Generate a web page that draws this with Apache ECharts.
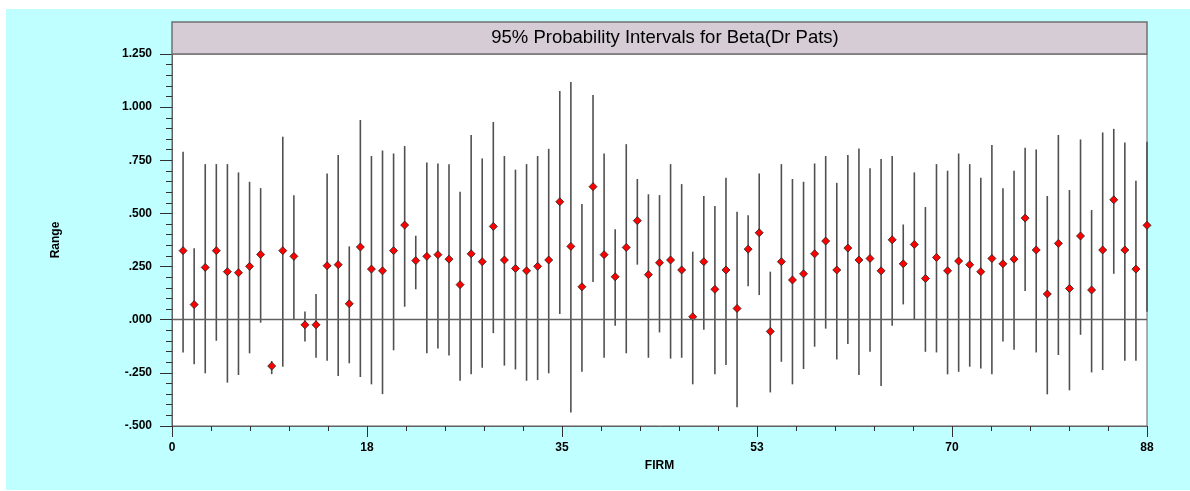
<!DOCTYPE html>
<html>
<head>
<meta charset="utf-8">
<script src="https://cdn.jsdelivr.net/npm/echarts@6/dist/echarts.min.js"></script>
<style>
  html, body { margin: 0; padding: 0; background: #ffffff; }
  #chart { position: absolute; left: 6px; top: 9px; width: 1184px; height: 481px; }
</style>
</head>
<body>
<div id="chart"></div>
<script>
// firms 1..88
var firms = [];
for (var i = 1; i <= 88; i++) firms.push(i);

// point estimates (red diamonds)
var est = [0.325,0.071,0.246,0.325,0.226,0.221,0.251,0.307,-0.218,0.325,
  0.298,-0.024,-0.024,0.254,0.259,0.075,0.342,0.238,0.230,0.325,
  0.445,0.278,0.298,0.306,0.285,0.165,0.310,0.273,0.439,0.281,
  0.241,0.230,0.251,0.281,0.555,0.345,0.155,0.626,0.306,0.202,
  0.340,0.466,0.212,0.268,0.281,0.234,0.014,0.273,0.143,0.234,
  0.053,0.332,0.409,-0.055,0.273,0.187,0.216,0.310,0.370,0.234,
  0.337,0.281,0.288,0.230,0.376,0.263,0.354,0.194,0.293,0.230,
  0.276,0.259,0.226,0.288,0.263,0.285,0.478,0.328,0.121,0.359,
  0.147,0.394,0.140,0.328,0.564,0.328,0.238,0.444];

// upper ends of the 95% intervals
var hi = [0.790,0.336,0.732,0.732,0.732,0.693,0.649,0.619,-0.194,0.861,
  0.586,0.039,0.121,0.688,0.775,0.345,0.939,0.770,0.796,0.782,
  0.817,0.395,0.740,0.735,0.731,0.602,0.869,0.759,0.930,0.770,
  0.706,0.732,0.770,0.804,1.076,1.118,0.544,1.057,0.782,0.426,
  0.826,0.662,0.590,0.586,0.732,0.638,0.320,0.582,0.535,0.668,
  0.508,0.492,0.688,0.226,0.732,0.662,0.649,0.735,0.770,0.644,
  0.775,0.806,0.713,0.756,0.770,0.448,0.693,0.530,0.732,0.701,
  0.782,0.732,0.668,0.822,0.619,0.701,0.809,0.801,0.582,0.869,
  0.610,0.848,0.516,0.881,0.898,0.834,0.654,0.837];

// lower ends
var lo = [-0.154,-0.209,-0.252,-0.099,-0.296,-0.260,-0.158,-0.014,-0.256,-0.221,
  0.002,-0.102,-0.179,-0.193,-0.265,-0.205,-0.270,-0.304,-0.350,-0.144,
  0.061,0.143,-0.158,-0.136,-0.168,-0.287,-0.257,-0.226,-0.063,-0.216,
  -0.234,-0.287,-0.284,-0.252,0.027,-0.436,-0.245,0.177,-0.179,-0.028,
  -0.158,0.259,-0.179,-0.060,-0.183,-0.179,-0.304,-0.047,-0.257,-0.213,
  -0.412,0.158,0.116,-0.342,-0.198,-0.304,-0.232,-0.127,-0.042,-0.187,
  -0.114,-0.260,-0.151,-0.312,-0.028,0.072,0.002,-0.151,-0.154,-0.257,
  -0.245,-0.221,-0.230,-0.257,-0.102,-0.141,0.135,-0.154,-0.351,-0.166,
  -0.332,-0.071,-0.248,-0.237,0.216,-0.193,-0.193,0.038];

var intervalData = firms.map(function (f, k) { return [f, lo[k], hi[k]]; });
var pointData = firms.map(function (f, k) { return [f, est[k]]; });

var fnt = '"Liberation Sans", Arial, sans-serif';
var axisCol = '#606060';

function yFmt(v) {
  var s = Math.abs(v).toFixed(3);
  if (s.charAt(0) === '0') s = s.slice(1);
  return (v < 0 ? '-' : '') + s;
}

var myChart = echarts.init(document.getElementById('chart'));
myChart.setOption({
  animation: false,
  backgroundColor: '#C0FFFF',
  grid: { left: 166, right: 43, top: 45, bottom: 64, show: true, borderColor: axisCol, borderWidth: 1, backgroundColor: '#ffffff' },
  graphic: [
    { // title band
      type: 'rect',
      shape: { x: 166, y: 13, width: 975, height: 32 },
      style: { fill: '#D5CCD5', stroke: '#707070', lineWidth: 1.5 },
      z: 10
    },
    {
      type: 'text',
      x: 659, y: 29,
      style: { text: '95% Probability Intervals for Beta(Dr Pats)', font: '18.5px ' + fnt, fill: '#000', align: 'center', verticalAlign: 'middle' },
      z: 11
    }
  ],
  xAxis: {
    type: 'value',
    min: 0, max: 88, interval: 17.6,
    name: 'FIRM', nameLocation: 'middle', nameGap: 34,
    nameTextStyle: { fontFamily: fnt, fontWeight: 'bold', fontSize: 12, color: '#000' },
    axisLine: { show: true, onZero: false, lineStyle: { color: axisCol, width: 1 } },
    axisTick: { show: true, length: 11, lineStyle: { color: '#303030' } },
    minorTick: { show: true, splitNumber: 5, length: 5, lineStyle: { color: '#303030' } },
    splitLine: { show: false },
    axisLabel: { fontFamily: fnt, fontWeight: 'bold', fontSize: 12, color: '#000', margin: 16, formatter: function (v) { return Math.round(v); } }
  },
  yAxis: {
    type: 'value',
    min: -0.5, max: 1.25, interval: 0.25,
    name: 'Range', nameLocation: 'middle', nameGap: 110, nameRotate: 90,
    nameTextStyle: { fontFamily: fnt, fontWeight: 'bold', fontSize: 12, color: '#000' },
    axisLine: { show: true, onZero: false, lineStyle: { color: axisCol, width: 1 } },
    axisTick: { show: true, length: 12, lineStyle: { color: '#303030' } },
    minorTick: { show: true, splitNumber: 5, length: 6, lineStyle: { color: '#303030' } },
    splitLine: { show: false },
    axisLabel: { fontFamily: fnt, fontWeight: 'bold', fontSize: 12, color: '#000', margin: 20, formatter: yFmt }
  },
  series: [
    {
      type: 'custom',
      clip: false,
      data: intervalData,
      renderItem: function (params, api) {
        var a = api.coord([api.value(0), api.value(1)]);
        var b = api.coord([api.value(0), api.value(2)]);
        return {
          type: 'line',
          shape: { x1: a[0], y1: a[1], x2: b[0], y2: b[1] },
          style: { stroke: '#505050', lineWidth: 1.6 }
        };
      },
      markLine: {
        silent: true,
        symbol: 'none',
        label: { show: false },
        lineStyle: { color: axisCol, type: 'solid', width: 1.3 },
        data: [{ yAxis: 0 }]
      },
      z: 2
    },
    {
      type: 'scatter',
      data: pointData,
      symbol: 'diamond',
      symbolSize: 8,
      itemStyle: { color: '#FF0000', borderColor: '#202020', borderWidth: 0.8, opacity: 1 },
      clip: false,
      z: 3
    }
  ]
});
</script>
</body>
</html>
